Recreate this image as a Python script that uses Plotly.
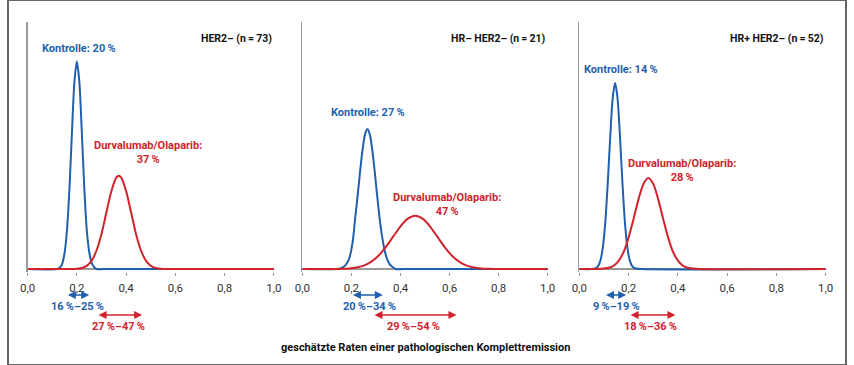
import plotly.graph_objects as go

# ---------------- data ----------------
panel_titles = ["HER2\u2013 (n\u2009=\u200973)", "HR\u2013 HER2\u2013 (n\u2009=\u200921)", "HR+ HER2\u2013 (n\u2009=\u200952)"]
ctrl_labels = ["Kontrolle: 20\u2009%", "Kontrolle: 27\u2009%", "Kontrolle: 14\u2009%"]
durva_labels = ["Durvalumab/Olaparib:<br>37\u2009%", "Durvalumab/Olaparib:<br>47\u2009%", "Durvalumab/Olaparib:<br>28\u2009%"]
ctrl_ci_labels = ["16\u2009%\u201325\u2009%", "20\u2009%\u201334\u2009%", "9\u2009%\u201319\u2009%"]
durva_ci_labels = ["27\u2009%\u201347\u2009%", "29\u2009%\u201354\u2009%", "18\u2009%\u201336\u2009%"]

tick_vals = [0.0, 0.2, 0.4, 0.6, 0.8, 1.0]
tick_text = ["0,0", "0,2", "0,4", "0,6", "0,8", "1,0"]

# panel 1: HER2-
p1_ctrl_x = [0.0, 0.12, 0.13, 0.14, 0.15, 0.16, 0.17, 0.18, 0.19, 0.20, 0.21, 0.22, 0.23, 0.24, 0.25, 0.26, 0.27, 0.28, 0.31, 1.0]
p1_ctrl_y = [0.0, 0.0, 0.5, 2.0, 6.5, 16.0, 33.0, 55.5, 75.8, 84.0, 75.8, 55.5, 33.0, 16.0, 7.0, 2.5, 0.8, 0.0, 0.0, 0.0]
p1_durva_x = [0.0, 0.17, 0.20, 0.22, 0.24, 0.26, 0.28, 0.30, 0.32, 0.34, 0.36, 0.37, 0.38, 0.40, 0.42, 0.44, 0.46, 0.48, 0.50, 0.52, 0.55, 0.58, 1.0]
p1_durva_y = [0.0, 0.0, 0.1, 0.4, 1.3, 3.4, 7.6, 14.2, 23.0, 31.5, 37.0, 37.8, 37.0, 31.5, 23.0, 14.2, 7.6, 3.4, 1.3, 0.4, 0.0, 0.0, 0.0]

# panel 2: HR- HER2-
p2_ctrl_x = [0.0, 0.14, 0.16, 0.175, 0.19, 0.205, 0.215, 0.225, 0.235, 0.245, 0.255, 0.265, 0.275, 0.285, 0.295, 0.305, 0.315, 0.325, 0.335, 0.345, 0.355, 0.365, 0.38, 0.41, 1.0]
p2_ctrl_y = [0.0, 0.0, 0.5, 1.5, 4.0, 11.0, 20.4, 29.5, 39.3, 48.1, 54.4, 56.7, 54.4, 48.1, 39.3, 29.5, 20.4, 13.1, 7.7, 4.1, 2.1, 1.0, 0.0, 0.0, 0.0]
p2_durva_x = [0.0, 0.13, 0.16, 0.19, 0.22, 0.25, 0.28, 0.31, 0.34, 0.37, 0.40, 0.43, 0.46, 0.49, 0.52, 0.55, 0.58, 0.61, 0.64, 0.67, 0.70, 0.73, 0.76, 0.80, 0.84, 1.0]
p2_durva_y = [0.0, 0.0, 0.1, 0.24, 0.6, 1.4, 2.9, 5.4, 8.9, 13.1, 17.3, 20.4, 21.6, 20.4, 17.3, 13.1, 8.9, 5.4, 2.9, 1.4, 0.6, 0.24, 0.1, 0.0, 0.0, 0.0]

# panel 3: HR+ HER2-
p3_ctrl_x = [0.0, 0.05, 0.065, 0.075, 0.085, 0.095, 0.105, 0.115, 0.125, 0.135, 0.145, 0.155, 0.165, 0.175, 0.185, 0.195, 0.205, 0.215, 0.225, 0.25, 1.0]
p3_ctrl_y = [0.0, 0.0, 0.3, 1.1, 3.3, 8.6, 18.7, 34.5, 53.2, 69.0, 75.3, 69.0, 53.2, 34.5, 18.7, 8.6, 3.3, 1.1, 0.3, 0.0, 0.0]
p3_durva_x = [0.0, 0.07, 0.10, 0.12, 0.14, 0.16, 0.18, 0.20, 0.22, 0.24, 0.26, 0.28, 0.30, 0.32, 0.34, 0.36, 0.38, 0.40, 0.42, 0.44, 0.46, 0.49, 1.0]
p3_durva_y = [0.0, 0.0, 0.2, 0.5, 1.4, 3.4, 7.0, 12.8, 20.3, 28.2, 34.4, 36.8, 34.4, 28.2, 20.3, 12.8, 7.0, 3.4, 1.4, 0.5, 0.2, 0.0, 0.0]

# label positions: x in data units, y in data units / figure pixels
title_pos = [(1.0, 93.5), (1.0, 93.5), (1.0, 93.5)]
ctrl_label_pos = [(0.207, 89.1), (0.268, 63.2), (0.169, 80.6)]
durva_label_pos = [(0.49, 47.2), (0.588, 26.1), (0.417, 39.9)]
ctrl_arrow = [(0.157, 0.25), (0.20, 0.328), (0.102, 0.19)]
durva_arrow = [(0.282, 0.465), (0.288, 0.628), (0.202, 0.39)]
ctrl_ci_label_x = [0.203, 0.272, 0.15]
durva_ci_label_x = [0.37, 0.452, 0.29]

xlabel = "geschätzte Raten einer pathologischen Komplettremission"

# ---------------- styling ----------------
BLUE = "#1f5fae"
RED = "#d0232b"
FONT = "Roboto, Liberation Sans, sans-serif"
W, H = 854, 365

ctrl_xs = [p1_ctrl_x, p2_ctrl_x, p3_ctrl_x]
ctrl_ys = [p1_ctrl_y, p2_ctrl_y, p3_ctrl_y]
durva_xs = [p1_durva_x, p2_durva_x, p3_durva_x]
durva_ys = [p1_durva_y, p2_durva_y, p3_durva_y]

x_domains_px = [(20, 271), (300, 550), (582.3, 833.3)]
y_bottom_px = 271.5
y_top_px = 22
ctrl_arrow_ypx, durva_arrow_ypx = 295, 315
ctrl_ci_ypx, durva_ci_ypx = 306, 326


def py(px):
    return (H - px) / H


fig = go.Figure()
layout = dict(
    width=W, height=H,
    margin=dict(l=0, r=0, t=0, b=0),
    paper_bgcolor="white", plot_bgcolor="white",
    showlegend=False,
    font=dict(family=FONT, size=11, color="#222"),
)
annotations = []

for i in range(3):
    xa = "x" if i == 0 else f"x{i+1}"
    ya = "y" if i == 0 else f"y{i+1}"
    fig.add_trace(go.Scatter(x=ctrl_xs[i], y=ctrl_ys[i], mode="lines",
                             line=dict(color=BLUE, width=2, shape="spline", smoothing=0.7),
                             xaxis=xa, yaxis=ya, hoverinfo="skip"))
    fig.add_trace(go.Scatter(x=durva_xs[i], y=durva_ys[i], mode="lines",
                             line=dict(color=RED, width=2, shape="spline", smoothing=0.7),
                             xaxis=xa, yaxis=ya, hoverinfo="skip"))
    d0, d1 = x_domains_px[i]
    xkey = "xaxis" if i == 0 else f"xaxis{i+1}"
    ykey = "yaxis" if i == 0 else f"yaxis{i+1}"
    layout[xkey] = dict(
        domain=[d0 / W, d1 / W], range=[0, 1], anchor=ya,
        showgrid=False, zeroline=False, showline=False,
        ticks="outside", ticklen=3, tickcolor="#999", tickwidth=1,
        tickvals=tick_vals, ticktext=tick_text,
        tickfont=dict(family=FONT, size=11.5, color="#333"),
        ticklabelstandoff=3, fixedrange=True,
    )
    layout[ykey] = dict(
        domain=[py(y_bottom_px), py(y_top_px)], range=[-1, 100], anchor=xa,
        showgrid=False, showticklabels=False, ticks="",
        zeroline=True, zerolinecolor="#999", zerolinewidth=1.5,
        showline=True, linecolor="#999", linewidth=1.5, fixedrange=True,
    )
    annotations.append(dict(x=title_pos[i][0], y=title_pos[i][1], xref=xa, yref=ya,
                            text=f"<b>{panel_titles[i]}</b>", showarrow=False,
                            xanchor="right", yanchor="middle",
                            font=dict(family=FONT, size=10.5, color="#111")))
    annotations.append(dict(x=ctrl_label_pos[i][0], y=ctrl_label_pos[i][1], xref=xa, yref=ya,
                            text=f"<b>{ctrl_labels[i]}</b>", showarrow=False,
                            xanchor="center", yanchor="middle",
                            font=dict(family=FONT, size=11, color=BLUE)))
    annotations.append(dict(x=durva_label_pos[i][0], y=durva_label_pos[i][1], xref=xa, yref=ya,
                            text=f"<b>{durva_labels[i]}</b>", showarrow=False,
                            xanchor="center", yanchor="middle", align="center",
                            font=dict(family=FONT, size=11, color=RED)))
    # CI arrows below the axis
    for (lo, hi), col, ypx in [(ctrl_arrow[i], BLUE, ctrl_arrow_ypx), (durva_arrow[i], RED, durva_arrow_ypx)]:
        annotations.append(dict(x=hi, y=py(ypx), xref=xa, yref="paper",
                                ax=lo, axref=xa, ay=0, ayref="pixel",
                                text="", showarrow=True, arrowhead=2, startarrowhead=2,
                                arrowside="end+start", arrowsize=1, startarrowsize=1,
                                arrowwidth=1.6, arrowcolor=col, standoff=0, startstandoff=0))
    annotations.append(dict(x=ctrl_ci_label_x[i], y=py(ctrl_ci_ypx), xref=xa, yref="paper",
                            text=f"<b>{ctrl_ci_labels[i]}</b>", showarrow=False,
                            xanchor="center", yanchor="middle",
                            font=dict(family=FONT, size=11, color=BLUE)))
    annotations.append(dict(x=durva_ci_label_x[i], y=py(durva_ci_ypx), xref=xa, yref="paper",
                            text=f"<b>{durva_ci_labels[i]}</b>", showarrow=False,
                            xanchor="center", yanchor="middle",
                            font=dict(family=FONT, size=11, color=RED)))

annotations.append(dict(x=425 / W, y=py(347), xref="paper", yref="paper",
                        text=f"<b>{xlabel}</b>", showarrow=False,
                        xanchor="center", yanchor="middle",
                        font=dict(family=FONT, size=11, color="#111")))

layout["annotations"] = annotations
layout["shapes"] = [dict(type="rect", xref="paper", yref="paper", x0=0, y0=0, x1=1, y1=1,
                         line=dict(color="#666", width=2), fillcolor="rgba(0,0,0,0)")]
fig.update_layout(**layout)
fig.write_html("out.html",
               config={"displayModeBar": False, "staticPlot": True},
               post_script="document.body.style.margin='0';document.body.style.overflow='hidden';")
